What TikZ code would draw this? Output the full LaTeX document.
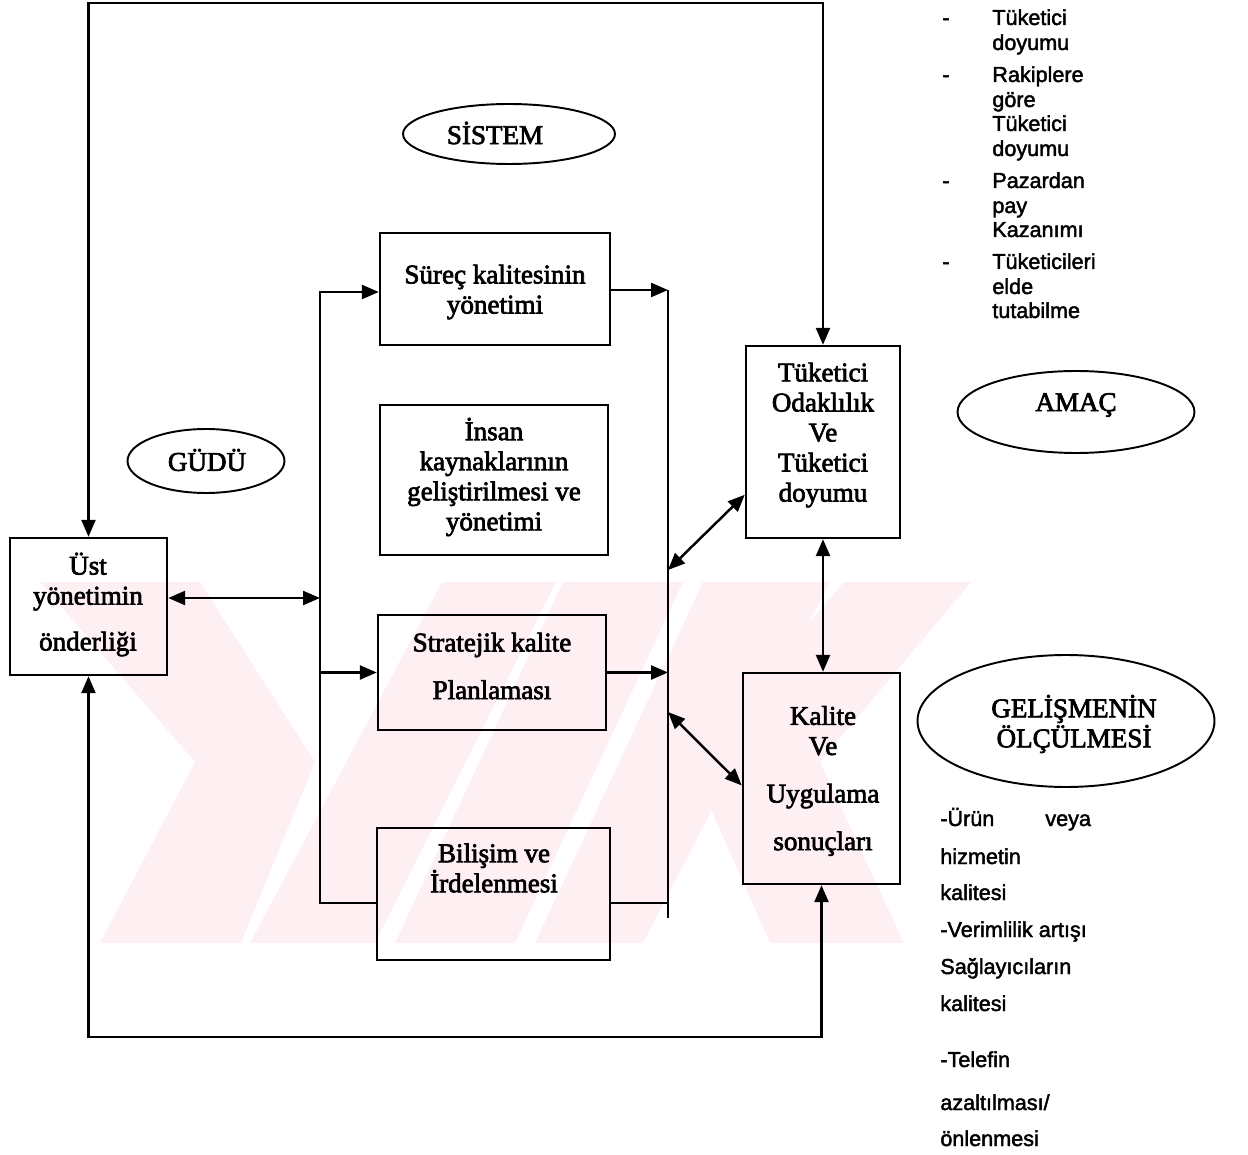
\documentclass[tikz,border=0pt]{standalone}
\usepackage{fontspec}
\setmainfont{Liberation Serif}[BoldFont=Liberation Serif,BoldFeatures={FakeBold=2.6}]
\newfontfamily\listfont{Liberation Sans}[BoldFont=Liberation Sans,BoldFeatures={FakeBold=2.0}]
\usetikzlibrary{arrows.meta,shapes.geometric,calc}
\definecolor{wmpink}{RGB}{254,239,242}

\begin{document}
\begin{tikzpicture}[x=0.02cm,y=-0.02cm,
  box/.style={draw,line width=1.4pt,inner sep=0pt},
  oval/.style={draw,ellipse,line width=1.1pt,inner sep=0pt},
  btxt/.style={font=\bfseries\fontsize{15.4}{17.1}\selectfont,align=center,inner sep=0pt},
  ltxt/.style={font=\listfont\bfseries\fontsize{12.3}{14}\selectfont,anchor=base west,inner sep=0pt},
  conn/.style={line width=1.4pt},
  onetip/.style={conn,-{Triangle[length=0.34cm,width=0.28cm]}},
  twotip/.style={conn,{Triangle[length=0.34cm,width=0.28cm]}-{Triangle[length=0.34cm,width=0.28cm]}}]

\useasboundingbox (0,0) rectangle (1248,1155);

% faint background emblem
\fill[wmpink] (40,582) -- (200,582) -- (315,762) -- (241,943) -- (100,943) -- (195,762) -- cycle;
\fill[wmpink] (250,943) -- (375,943) -- (556,582) -- (442,582) -- cycle;
\fill[wmpink] (395,943) -- (515,943) -- (683,582) -- (563,582) -- cycle;
\fill[wmpink] (535,943) -- (643,943) -- (830,582) -- (703,582) -- cycle;
\fill[wmpink] (844,582) -- (971,582) -- (820,762) -- (904,943) -- (770,943) -- (690,762) -- cycle;

% boxes
\node[box,minimum width=3.14cm,minimum height=2.74cm] (ust) at (88.5,606.5) {};
\node[box,minimum width=4.6cm,minimum height=2.24cm] (sur) at (495,289) {};
\node[box,minimum width=4.56cm,minimum height=3.0cm] (ins) at (494,480) {};
\node[box,minimum width=4.56cm,minimum height=2.3cm] (str) at (492,672.5) {};
\node[box,minimum width=4.66cm,minimum height=2.64cm] (bil) at (493.5,894) {};
\node[box,minimum width=3.08cm,minimum height=3.84cm] (tuk) at (823,442) {};
\node[box,minimum width=3.14cm,minimum height=4.22cm] (kal) at (821.5,778.5) {};

% ellipses
\node[oval,minimum width=4.24cm,minimum height=1.2cm] (sis) at (509,134) {};
\node[oval,minimum width=3.14cm,minimum height=1.28cm] (gud) at (206,461) {};
\node[oval,minimum width=4.74cm,minimum height=1.64cm] (ama) at (1076,412) {};
\node[oval,minimum width=5.94cm,minimum height=2.64cm] (gel) at (1066,721) {};

% box texts
\node[btxt] (tust) at (88,604.5) {Üst\\yönetimin\\[9pt]önderliği};
\node[btxt] (tsur) at (495,292) {Süreç kalitesinin\\yönetimi};
\node[btxt] (tins) at (494,477) {İnsan\\kaynaklarının\\geliştirilmesi ve\\yönetimi};
\node[btxt] (tstr) at (492,666) {Stratejik kalite\\[10pt]Planlaması};
\node[btxt] (tbil) at (494,868) {Bilişim ve\\İrdelenmesi};
\node[btxt] (ttuk) at (823,435) {Tüketici\\Odaklılık\\Ve\\Tüketici\\doyumu};
\node[btxt] (tkal) at (823,781) {Kalite\\Ve\\[10pt]Uygulama\\[10pt]sonuçları};

% ellipse texts
\node[btxt] (tsis) at (495,133) {SİSTEM};
\node[btxt] (tgud) at (207,460) {GÜDÜ};
\node[btxt] (tama) at (1076,405) {AMAÇ};
\node[btxt] (tgel) at (1074,724) {GELİŞMENİN\\ÖLÇÜLMESİ};

% goal list
\node[ltxt] (d1) at (942,25) {-};
\node[ltxt] (a1) at (992,25) {Tüketici};
\node[ltxt] (a2) at (992,50) {doyumu};
\node[ltxt] (d2) at (942,82) {-};
\node[ltxt] (b1) at (992,82) {Rakiplere};
\node[ltxt] (b2) at (992,107) {göre};
\node[ltxt] (b3) at (992,131) {Tüketici};
\node[ltxt] (b4) at (992,156) {doyumu};
\node[ltxt] (d3) at (942,188) {-};
\node[ltxt] (c1) at (992,188) {Pazardan};
\node[ltxt] (c2) at (992,213) {pay};
\node[ltxt] (c3) at (992,237) {Kazanımı};
\node[ltxt] (d4) at (942,269) {-};
\node[ltxt] (e1) at (992,269) {Tüketicileri};
\node[ltxt] (e2) at (992,294) {elde};
\node[ltxt] (e3) at (992,318) {tutabilme};

% measurement list
\node[ltxt] (m1) at (940,826) {-Ürün};
\node[ltxt] (m1b) at (1045,826) {veya};
\node[ltxt] (m2) at (940,864) {hizmetin};
\node[ltxt] (m3) at (940,900) {kalitesi};
\node[ltxt] (m4) at (940,937) {-Verimlilik artışı};
\node[ltxt] (m5) at (940,974) {Sağlayıcıların};
\node[ltxt] (m6) at (940,1011) {kalitesi};
\node[ltxt] (m7) at (940,1067) {-Telefin};
\node[ltxt] (m8) at (940,1110) {azaltılması/};
\node[ltxt] (m9) at (940,1146) {önlenmesi};

% bus points
\coordinate (lbT) at (320,292);
\coordinate (lbM) at (320,598);
\coordinate (lbB) at (320,903);
\coordinate (rbT) at (668,290);
\coordinate (rbU) at (668,570);
\coordinate (rbL) at (668,712);
\coordinate (rbM) at (668,903);
\coordinate (rbB) at (668,918);
\coordinate (topc) at (450,3);
\coordinate (botc) at (450,1037);

% left bus
\draw[onetip] (bil.west |- lbB) -- (lbB) -- (lbT) -- (sur.west |- lbT);
\draw[onetip] (lbB |- str.west) -- (str.west);
\draw[twotip] (ust.east |- lbM) -- (lbM);

% right bus
\draw[conn] (rbT) -- (rbB);
\draw[onetip] (sur.east |- rbT) -- (rbT);
\draw[onetip] (str.east) -- (str.east -| rbT);
\draw[conn] (bil.east |- rbM) -- (rbM);
\draw[twotip] (rbU) -- (tuk.214.5);
\draw[twotip] (rbL) -- (kal.185);

% right column link
\draw[twotip] (tuk.south) -- (tuk.south |- kal.north);

% outer loops
\draw[twotip] (ust.north) |- (topc) -| (tuk.north);
\draw[twotip] (ust.south) |- (botc) -| (kal.south);
\end{tikzpicture}
\end{document}
